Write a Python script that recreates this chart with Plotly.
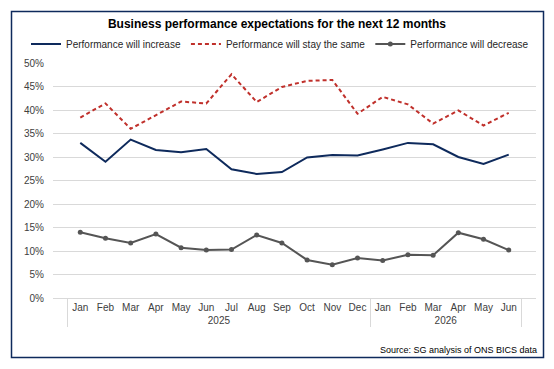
import plotly.graph_objects as go

years = ["2025"] * 12 + ["2026"] * 6
months = ["Jan", "Feb", "Mar", "Apr", "May", "Jun", "Jul", "Aug", "Sep", "Oct", "Nov", "Dec",
          "Jan", "Feb", "Mar", "Apr", "May", "Jun"]

increase = [33.0, 29.0, 33.7, 31.5, 31.0, 31.7, 27.4, 26.4, 26.8, 29.9, 30.4, 30.3,
            31.6, 33.0, 32.7, 30.0, 28.5, 30.5]
stay_same = [38.4, 41.4, 36.0, 38.9, 41.8, 41.4, 47.6, 41.7, 44.9, 46.2, 46.4, 39.2,
             42.8, 41.2, 37.1, 39.9, 36.7, 39.4]
decrease = [14.0, 12.7, 11.7, 13.6, 10.7, 10.2, 10.3, 13.4, 11.7, 8.1, 7.1, 8.5,
            8.0, 9.2, 9.1, 13.9, 12.5, 10.2]

tick_vals = [0, 5, 10, 15, 20, 25, 30, 35, 40, 45, 50]
tick_text = [f"{v}%" for v in tick_vals]

x = [years, months]
FONT = "Liberation Sans, Arial, sans-serif"

fig = go.Figure()
fig.add_trace(go.Scatter(x=x, y=increase, name="Performance will increase", mode="lines",
                         line=dict(color="#0e2a5c", width=2)))
fig.add_trace(go.Scatter(x=x, y=stay_same, name="Performance will stay the same", mode="lines",
                         line=dict(color="#c0302b", width=2, dash="4px,3px")))
fig.add_trace(go.Scatter(x=x, y=decrease, name="Performance will decrease", mode="lines+markers",
                         line=dict(color="#555555", width=2),
                         marker=dict(color="#555555", size=5)))

L, R, T, B = 53, 18, 63, 71
W, H = 554, 369
pw, ph = W - L - R, H - T - B

def px2x(px):
    return (px - L) / pw

def py2y(py):
    return (H - B - py) / ph

fig.update_layout(
    width=W, height=H,
    margin=dict(l=L, r=R, t=T, b=B, autoexpand=False),
    paper_bgcolor="white", plot_bgcolor="white",
    font=dict(family=FONT, size=10, color="#404040"),
    title=dict(text="<b>Business performance expectations for the next 12 months</b>",
               x=0.5, xref="container", xanchor="center",
               y=1 - 24 / H, yref="container", yanchor="middle",
               font=dict(size=12, color="#000000", family=FONT)),
    legend=dict(orientation="h", xref="paper", x=px2x(26), xanchor="left",
                yref="paper", y=py2y(44), yanchor="middle",
                font=dict(size=10, color="#262626"), itemwidth=30,
                bgcolor="rgba(0,0,0,0)", tracegroupgap=0),
    xaxis=dict(type="multicategory", showgrid=False, showline=True, linecolor="#d9d9d9",
               tickfont=dict(size=10, color="#404040"), showdividers=True,
               dividercolor="#d9d9d9", dividerwidth=1, ticks="", tickangle=0,
               automargin=False),
    yaxis=dict(range=[0, 50], tickvals=tick_vals, ticktext=tick_text, showgrid=True,
               gridcolor="#d9d9d9", gridwidth=1, zeroline=False, showline=False,
               tickfont=dict(size=10, color="#404040"), ticks="", ticklabelstandoff=8,
               automargin=False),
    shapes=[dict(type="rect", xref="paper", yref="paper",
                 x0=px2x(11.5), x1=px2x(543.5), y0=py2y(357.5), y1=py2y(11.5),
                 line=dict(color="#0e2a5c", width=1.5), fillcolor="rgba(0,0,0,0)", layer="below")],
    annotations=[dict(text="Source: SG analysis of ONS BICS data", xref="paper", yref="paper",
                      x=px2x(539), y=py2y(350), xanchor="right", yanchor="middle",
                      showarrow=False, font=dict(size=9, color="#000000"))],
)

fig.write_html("out.html")
